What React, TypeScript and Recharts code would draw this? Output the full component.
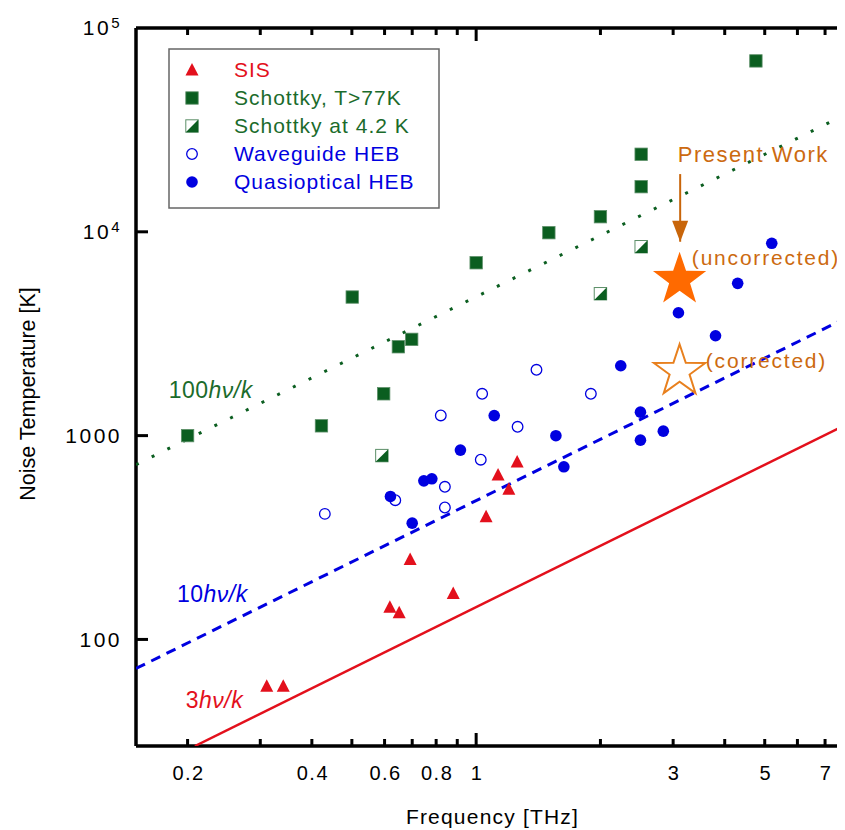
import { ScatterChart, Scatter, XAxis, YAxis, Legend } from "recharts";

// frequency in THz, receiver noise temperature in K
const sis = [
  { f: 0.311, t: 59 },
  { f: 0.341, t: 59 },
  { f: 0.618, t: 144 },
  { f: 0.651, t: 135 },
  { f: 0.692, t: 247 },
  { f: 0.88, t: 168 },
  { f: 1.057, t: 400 },
  { f: 1.13, t: 640 },
  { f: 1.2, t: 545 },
  { f: 1.257, t: 743 },
];
const schottkyWarm = [
  { f: 0.2, t: 1000 },
  { f: 0.422, t: 1117 },
  { f: 0.501, t: 4786 },
  { f: 0.597, t: 1604 },
  { f: 0.648, t: 2729 },
  { f: 0.698, t: 2967 },
  { f: 1.0, t: 7050 },
  { f: 1.5, t: 9900 },
  { f: 2.0, t: 11860 },
  { f: 2.51, t: 16650 },
  { f: 2.51, t: 24020 },
  { f: 4.76, t: 68950 },
];
const schottkyCold = [
  { f: 0.591, t: 798 },
  { f: 2.0, t: 4968 },
  { f: 2.51, t: 8450 },
];
const waveguideHeb = [
  { f: 0.43, t: 413 },
  { f: 0.637, t: 482 },
  { f: 0.84, t: 561 },
  { f: 0.84, t: 444 },
  { f: 0.821, t: 1256 },
  { f: 1.026, t: 762 },
  { f: 1.034, t: 1604 },
  { f: 1.26, t: 1105 },
  { f: 1.4, t: 2104 },
  { f: 1.896, t: 1604 },
];
const quasiopticalHeb = [
  { f: 0.62, t: 503 },
  { f: 0.7, t: 372 },
  { f: 0.747, t: 600 },
  { f: 0.781, t: 614 },
  { f: 0.916, t: 849 },
  { f: 1.106, t: 1254 },
  { f: 1.56, t: 999 },
  { f: 1.631, t: 703 },
  { f: 2.24, t: 2202 },
  { f: 2.5, t: 1304 },
  { f: 2.5, t: 950 },
  { f: 2.84, t: 1052 },
  { f: 3.09, t: 4007 },
  { f: 3.8, t: 3090 },
  { f: 4.3, t: 5587 },
  { f: 5.2, t: 8781 },
];
const presentUncorrected = [{ f: 3.11, t: 6020 }];
const presentCorrected = [{ f: 3.11, t: 2140 }];
const presentArrow = [
  { f: 3.12, t: 19200 },
  { f: 3.12, t: 8940 },
];

// n*h*nu/k guide lines, end points
const limit3 = [
  { f: 0.2084, t: 30 },
  { f: 8, t: 1152 },
];
const limit10 = [
  { f: 0.15, t: 72 },
  { f: 8, t: 3839 },
];
const limit100 = [
  { f: 0.15, t: 720 },
  { f: 8, t: 38390 },
];

// text anchors (start of baseline)
const label3 = [{ f: 0.198, t: 45.9 }];
const label10 = [{ f: 0.1885, t: 152.8 }];
const label100 = [{ f: 0.18, t: 1528 }];
const labelPresent = [{ f: 3.08, t: 22000 }];
const labelUncorrected = [{ f: 3.33, t: 6870 }];
const labelCorrected = [{ f: 3.6, t: 2145 }];

const xTicks = [0.2, 0.3, 0.4, 0.5, 0.6, 0.7, 0.8, 0.9, 1, 2, 3, 4, 5, 6, 7];
const xLabels = [0.2, 0.4, 0.6, 0.8, 1, 3, 5, 7];
const yTicks = [100, 1000, 10000, 100000];

const legendNames = ["SIS", "Schottky, T>77K", "Schottky at 4.2 K", "Waveguide HEB", "Quasioptical HEB"];

const FONT = "'Liberation Sans', Arial, sans-serif";
const RED = "#E3101C";
const GREEN = "#0B5E20";
const GREEN_TEXT = "#1B6B2B";
const BLUE = "#0000E0";
const ORANGE = "#FF6A00";
const ORANGE_TEXT = "#CC6A10";

const tri = (cx: number, cy: number) => (
  <polygon points={`${cx},${cy - 7} ${cx + 6.5},${cy + 5.5} ${cx - 6.5},${cy + 5.5}`} fill={RED} />
);
const square = (cx: number, cy: number) => (
  <rect x={cx - 6.2} y={cy - 6.2} width={12.4} height={12.4} fill={GREEN} stroke="#5c8f68" strokeWidth={0.8} />
);
const halfSquare = (cx: number, cy: number) => (
  <g>
    <rect x={cx - 6.2} y={cy - 6.2} width={12.4} height={12.4} fill="#fff" stroke="#5c8f68" strokeWidth={1} />
    <polygon points={`${cx + 6.2},${cy - 6.2} ${cx + 6.2},${cy + 6.2} ${cx - 6.2},${cy + 6.2}`} fill={GREEN} />
  </g>
);
const openDot = (cx: number, cy: number) => (
  <circle cx={cx} cy={cy} r={5.3} fill="#fff" stroke={BLUE} strokeWidth={1.3} />
);
const dot = (cx: number, cy: number) => <circle cx={cx} cy={cy} r={5.8} fill={BLUE} />;

const starPoints = (cx: number, cy: number, R: number, r: number) => {
  const pts: string[] = [];
  for (let i = 0; i < 10; i++) {
    const a = -Math.PI / 2 + (i * Math.PI) / 5;
    const rad = i % 2 === 0 ? R : r;
    pts.push(`${cx + rad * Math.cos(a)},${cy + rad * Math.sin(a)}`);
  }
  return pts.join(" ");
};

const none = () => <g />;

function BottomTick({ x, y, payload }: any) {
  const v = payload.value;
  return (
    <g>
      <line x1={x} y1={y} x2={x} y2={y - (v === 1 ? 13 : 7)} stroke="#000" strokeWidth={3} />
      {xLabels.includes(v) && (
        <text x={x + 1} y={y + 34} textAnchor="middle" fontSize={20} fontFamily={FONT} fill="#000" letterSpacing={1.5}>
          {v}
        </text>
      )}
    </g>
  );
}

function TopTick({ x, y, payload }: any) {
  const v = payload.value;
  return <line x1={x} y1={y} x2={x} y2={y + (v === 1 ? 13 : 7)} stroke="#000" strokeWidth={3} />;
}

function LeftTick({ x, y, payload }: any) {
  const v = payload.value;
  const exp = Math.round(Math.log10(v));
  return (
    <g>
      {v < 100000 && <line x1={x} y1={y} x2={x + 12} y2={y} stroke="#000" strokeWidth={3} />}
      <text x={x - 14} y={y} dy="0.35em" textAnchor="end" fontSize={21} fontFamily={FONT} fill="#000" letterSpacing={2.5}>
        {exp >= 4 ? (
          <>
            10
            <tspan dy="-0.5em" fontSize={15}>
              {exp}
            </tspan>
          </>
        ) : (
          v
        )}
      </text>
    </g>
  );
}

function RightTick({ x, y, payload }: any) {
  if (payload.value >= 100000) return <g />;
  return <line x1={x} y1={y} x2={x - 12} y2={y} stroke="#000" strokeWidth={3} />;
}

const textShape =
  (content: any, color: string, size: number, spacing = 0) =>
  ({ cx, cy }: any) => (
    <text x={cx} y={cy} fontSize={size} fontFamily={FONT} fill={color} letterSpacing={spacing}>
      {content}
    </text>
  );

const hvk = (n: string) => (
  <>
    {n}
    <tspan fontStyle="italic">hν/k</tspan>
  </>
);

function LegendBox() {
  const markers = [tri, square, halfSquare, openDot, dot];
  const colors = [RED, GREEN_TEXT, GREEN_TEXT, BLUE, BLUE];
  return (
    <svg width={272} height={161} style={{ display: "block" }}>
      <rect x={1} y={1} width={270} height={159} fill="#fff" stroke="#666" strokeWidth={1.5} />
      {legendNames.map((name, i) => {
        const base = 29 + i * 28;
        return (
          <g key={name}>
            {markers[i](24, base - 7)}
            <text x={66} y={base} fontSize={21} fontFamily={FONT} fill={colors[i]} letterSpacing={1}>
              {name}
            </text>
          </g>
        );
      })}
    </svg>
  );
}

const axisLine = { stroke: "#000", strokeWidth: 3.5 };

export default function App() {
  return (
    <div style={{ width: 837, height: 822, overflow: "hidden", position: "relative" }}>
      <ScatterChart width={846} height={822} margin={{ top: 19, right: 4, bottom: 0, left: 0 }}>
        <XAxis
          dataKey="f"
          type="number"
          scale="log"
          domain={[0.15, 8]}
          allowDataOverflow
          ticks={xTicks}
          interval={0}
          tick={<BottomTick />}
          tickLine={false}
          tickSize={0}
          tickMargin={0}
          height={84}
          axisLine={axisLine}
          label={{
            value: "Frequency [THz]",
            position: "insideBottom",
            offset: 6,
            fontSize: 21,
            fontFamily: FONT,
            fill: "#000",
            letterSpacing: 1.2,
          }}
        />
        <XAxis
          xAxisId="top"
          orientation="top"
          dataKey="f"
          type="number"
          scale="log"
          domain={[0.15, 8]}
          allowDataOverflow
          ticks={xTicks}
          interval={0}
          tick={<TopTick />}
          tickLine={false}
          tickSize={0}
          tickMargin={0}
          height={1}
          axisLine={axisLine}
        />
        <YAxis
          dataKey="t"
          type="number"
          scale="log"
          domain={[30, 100000]}
          allowDataOverflow
          ticks={yTicks}
          interval={0}
          tick={<LeftTick />}
          tickLine={false}
          tickSize={0}
          tickMargin={0}
          width={128}
          axisLine={axisLine}
          label={{
            content: ({ viewBox }: any) => {
              const cy = viewBox.y + viewBox.height / 2 + 7;
              return (
                <text
                  x={27}
                  y={cy}
                  transform={`rotate(-90, 27, ${cy})`}
                  textAnchor="middle"
                  fontSize={21.5}
                  fontFamily={FONT}
                  fill="#000"
                >
                  Noise Temperature [K]
                </text>
              );
            },
          }}
        />
        <YAxis
          yAxisId="right"
          orientation="right"
          dataKey="t"
          type="number"
          scale="log"
          domain={[30, 100000]}
          allowDataOverflow
          ticks={yTicks}
          interval={0}
          tick={<RightTick />}
          tickLine={false}
          tickSize={0}
          tickMargin={0}
          width={1}
          axisLine={axisLine}
        />

        {/* keeps the mirrored top/right axes attached to data */}
        <Scatter data={limit100} xAxisId="top" yAxisId="right" shape={none} isAnimationActive={false} />

        <Scatter data={limit100} line={{ stroke: GREEN, strokeWidth: 3, strokeDasharray: "3 14.5" }} shape={none} isAnimationActive={false} />
        <Scatter data={limit10} line={{ stroke: BLUE, strokeWidth: 3, strokeDasharray: "10 7" }} shape={none} isAnimationActive={false} />
        <Scatter data={limit3} line={{ stroke: RED, strokeWidth: 2.5 }} shape={none} isAnimationActive={false} />

        <Scatter data={schottkyWarm} shape={({ cx, cy }: any) => square(cx, cy)} isAnimationActive={false} />
        <Scatter data={schottkyCold} shape={({ cx, cy }: any) => halfSquare(cx, cy)} isAnimationActive={false} />
        <Scatter data={sis} shape={({ cx, cy }: any) => tri(cx, cy)} isAnimationActive={false} />
        <Scatter data={waveguideHeb} shape={({ cx, cy }: any) => openDot(cx, cy)} isAnimationActive={false} />
        <Scatter data={quasiopticalHeb} shape={({ cx, cy }: any) => dot(cx, cy)} isAnimationActive={false} />

        <Scatter
          data={presentUncorrected}
          shape={({ cx, cy }: any) => <polygon points={starPoints(cx, cy + 3, 28, 11)} fill={ORANGE} />}
          isAnimationActive={false}
        />
        <Scatter
          data={presentCorrected}
          shape={({ cx, cy }: any) => (
            <polygon points={starPoints(cx, cy + 3, 27, 10.5)} fill="#fff" stroke="#E8801E" strokeWidth={2} />
          )}
          isAnimationActive={false}
        />
        <Scatter
          data={presentArrow}
          line={{ stroke: "#C8650A", strokeWidth: 2 }}
          shape={({ cx, cy, payload }: any) =>
            payload.t < 10000 ? (
              <polygon points={`${cx},${cy} ${cx - 8},${cy - 21} ${cx + 8},${cy - 21}`} fill="#C8650A" />
            ) : (
              <g />
            )
          }
          isAnimationActive={false}
        />

        <Scatter data={label100} shape={textShape(hvk("100"), GREEN_TEXT, 23, 0.5)} isAnimationActive={false} />
        <Scatter data={label10} shape={textShape(hvk("10"), BLUE, 23, 0.5)} isAnimationActive={false} />
        <Scatter data={label3} shape={textShape(hvk("3"), RED, 23, 0.5)} isAnimationActive={false} />
        <Scatter data={labelPresent} shape={textShape("Present Work", ORANGE_TEXT, 22, 1.5)} isAnimationActive={false} />
        <Scatter data={labelUncorrected} shape={textShape("(uncorrected)", ORANGE_TEXT, 21, 1.8)} isAnimationActive={false} />
        <Scatter data={labelCorrected} shape={textShape("(corrected)", ORANGE_TEXT, 21, 1.8)} isAnimationActive={false} />

        <Legend
          layout="vertical"
          align="center"
          verticalAlign="middle"
          wrapperStyle={{ left: 160, top: 40, width: 272, height: 161 }}
          content={() => <LegendBox />}
        />
      </ScatterChart>
    </div>
  );
}
